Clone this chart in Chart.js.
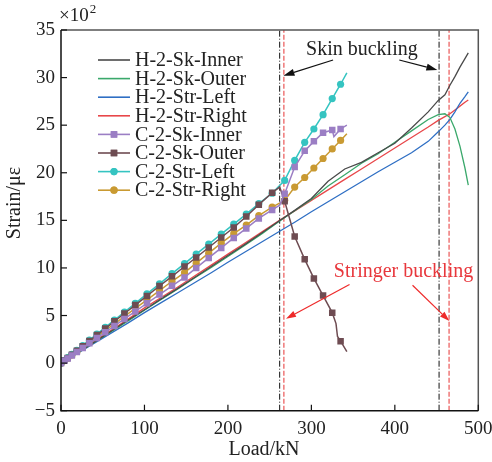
<!DOCTYPE html>
<html><head><meta charset="utf-8">
<script src="https://cdn.jsdelivr.net/npm/chart.js@4.4.1/dist/chart.umd.min.js"></script>
<style>html,body{margin:0;padding:0;background:#fff}#wrap{width:492px;height:462px;position:relative}</style>
</head><body><div id="wrap"><canvas id="c"></canvas></div>
<script>
// ---- tick labels ----
const xTicks = [0, 100, 200, 300, 400, 500];
const yTicks = [-5, 0, 5, 10, 15, 20, 25, 30, 35];
const yTickLabels = ['\u22125', '0', '5', '10', '15', '20', '25', '30', '35'];

// ---- H-2 specimen (load kN, strain x10^2 με) ----
const hLoad = [0,20,40,60,80,100,120,140,160,180,200,220,240,260,280,300,320,340,360,380,400,420,440,452,460,466,472,478,484,488];
const hSkInner  = [0,1.1,2.2,3.35,4.5,5.6,6.75,7.85,9.0,10.15,11.3,12.45,13.65,14.85,16.05,17.3,19.1,20.4,21.1,22.1,23.1,24.7,26.4,27.6,28.2,29.2,30.1,31.1,32.0,32.6];
const hSkOuter  = [0,1.1,2.2,3.3,4.4,5.55,6.7,7.8,8.95,10.05,11.2,12.35,13.55,14.8,16.0,17.2,18.6,19.8,21.0,22.0,23.2,24.4,25.6,26.1,26.2,25.8,24.6,22.8,20.5,18.7];
const hStrLeft  = [0,1.05,2.1,3.15,4.2,5.3,6.35,7.4,8.45,9.5,10.6,11.65,12.7,13.75,14.8,15.9,16.95,18.0,19.05,20.1,21.1,22.1,23.3,24.3,25.0,25.6,26.4,27.3,28.0,28.5];
const hStrRight = [0,1.15,2.3,3.45,4.6,5.8,6.9,8.0,9.15,10.3,11.45,12.6,13.75,14.9,16.0,17.1,18.2,19.3,20.4,21.5,22.6,23.7,24.8,25.5,25.9,26.2,26.6,27.0,27.4,27.65];

// ---- C-2 specimen ----
const cLoad = [0,4,8,13,19,26,34,43,53,64,76,89,103,118,133,148,162,177,192,207,222,237,253,262,268,280,292,303,314,325,327,329.5,331.3,335,342.5];
const cUnmarked = [262, 327, 329.5, 331.3, 342.5];
const cSkInner  = [0,0.24,0.49,0.8,1.16,1.59,2.08,2.63,3.24,3.91,4.64,5.43,6.29,7.2,8.12,9.0,10.0,11.05,12.1,13.15,14.15,15.2,16.1,16.6,17.8,20.6,22.3,23.3,24.2,24.5,23.8,null,null,24.6,25.0];
const cSkOuter  = [0,0.27,0.55,0.89,1.3,1.78,2.33,2.95,3.63,4.39,5.21,6.1,7.06,8.1,9.12,10.15,11.1,12.15,13.2,14.25,15.4,16.65,17.9,18.5,17.0,13.3,10.9,8.9,7.1,5.3,null,4.15,2.8,2.3,1.2];
const cStrLeft  = [0,0.28,0.57,0.93,1.35,1.85,2.41,3.05,3.75,4.52,5.37,6.28,7.27,8.33,9.4,10.45,11.45,12.5,13.55,14.6,15.65,16.75,17.85,null,19.2,21.3,23.2,24.6,26.1,27.8,null,null,null,29.3,30.5];
const cStrRight = [0,0.26,0.52,0.84,1.23,1.68,2.2,2.78,3.43,4.13,4.91,5.75,6.65,7.62,8.6,9.5,10.5,11.55,12.6,13.6,14.5,15.5,16.4,null,17.1,18.5,19.5,20.5,21.5,22.5,null,null,null,23.4,24.1];

// ---- buckling loads (kN) ----
const skinBuckling = [262, 453];
const stringerBuckling = [267, 465];

// ---- annotations (data coords) ----
const skinLabel = {text: 'Skin buckling', x: 360.5, y: 32.9};
const skinArrows = [[326, 31.85, 266.5, 30.2], [405.3, 31.85, 451, 30.8]];
const stringerLabel = {text: 'Stringer buckling', x: 410.4, y: 9.6};
const stringerArrows = [[345.7, 8.25, 269.6, 4.67], [421.2, 8.18, 465.4, 4.42]];

const SERIF = "'Liberation Serif', 'Times New Roman', serif";

function pts(xs, ys) {
  const out = [];
  xs.forEach((x, i) => { if (ys[i] !== null && ys[i] !== undefined) out.push({x: x, y: ys[i]}); });
  return out;
}
function hSet(label, vals, color) {
  return {label, data: pts(hLoad, vals), borderColor: color, backgroundColor: color,
    borderWidth: 1.3, pointRadius: 0, tension: 0, order: 2, legend: true};
}
function cSet(label, vals, color, style, r) {
  return {label, data: pts(cLoad, vals), borderColor: color, backgroundColor: color,
    borderWidth: 1.5, pointStyle: style, tension: 0, order: 1, legend: true,
    pointRadius: (ctx) => (ctx.raw && cUnmarked.includes(ctx.raw.x)) ? 0 : r,
    pointBorderWidth: 0, markR: r};
}
function vSet(xv, color, dash, w) {
  return {label: '', data: [{x: xv, y: -5}, {x: xv, y: 35}], borderColor: color,
    borderWidth: w, borderDash: dash, pointRadius: 0, order: 3, legend: false};
}

const datasets = [
  hSet('H-2-Sk-Inner', hSkInner, '#4a4a4a'),
  hSet('H-2-Sk-Outer', hSkOuter, '#3aa86b'),
  hSet('H-2-Str-Left', hStrLeft, '#2f6fc4'),
  hSet('H-2-Str-Right', hStrRight, '#e8474a'),
  cSet('C-2-Sk-Inner', cSkInner, '#9b7ec4', 'rect', 4.6),
  cSet('C-2-Sk-Outer', cSkOuter, '#6e4c52', 'rect', 4.6),
  cSet('C-2-Str-Left', cStrLeft, '#35c4c1', 'circle', 3.6),
  cSet('C-2-Str-Right', cStrRight, '#c99a32', 'circle', 3.6),
];
skinBuckling.forEach(v => datasets.push(vSet(v, '#111', [6, 2, 1, 2], 1)));
stringerBuckling.forEach(v => datasets.push(vSet(v, '#f08080', [5, 2], 1.6)));

function arrow(ctx, x1, y1, x2, y2, color, len, wid) {
  const ang = Math.atan2(y2 - y1, x2 - x1);
  const bx = x2 - len * Math.cos(ang), by = y2 - len * Math.sin(ang);
  ctx.strokeStyle = color; ctx.fillStyle = color; ctx.lineWidth = 1.2;
  ctx.beginPath(); ctx.moveTo(x1, y1); ctx.lineTo(bx, by); ctx.stroke();
  ctx.beginPath();
  ctx.moveTo(x2, y2);
  ctx.lineTo(bx + wid * Math.sin(ang), by - wid * Math.cos(ang));
  ctx.lineTo(bx - wid * Math.sin(ang), by + wid * Math.cos(ang));
  ctx.closePath(); ctx.fill();
}

const deco = {
  id: 'deco',
  afterDraw(chart) {
    const {ctx, chartArea: a, scales: {x, y}} = chart;
    ctx.save();
    // frame
    ctx.lineWidth = 1.5;
    ctx.strokeStyle = '#555';
    ctx.beginPath(); ctx.moveTo(a.left, a.top); ctx.lineTo(a.right, a.top); ctx.lineTo(a.right, a.bottom); ctx.stroke();
    ctx.strokeStyle = '#111';
    ctx.beginPath(); ctx.moveTo(a.left, a.top); ctx.lineTo(a.left, a.bottom); ctx.lineTo(a.right, a.bottom); ctx.stroke();
    // inward ticks
    ctx.lineWidth = 1.2;
    xTicks.forEach(v => { const p = x.getPixelForValue(v); ctx.beginPath(); ctx.moveTo(p, a.bottom); ctx.lineTo(p, a.bottom - 6); ctx.stroke(); });
    yTicks.forEach(v => { const p = y.getPixelForValue(v); ctx.beginPath(); ctx.moveTo(a.left, p); ctx.lineTo(a.left + 6, p); ctx.stroke(); });
    // axis titles
    ctx.fillStyle = '#222';
    ctx.font = '20px ' + SERIF;
    ctx.textAlign = 'center'; ctx.textBaseline = 'middle';
    ctx.fillText('Load/kN', a.left + 203, a.bottom + 39);
    ctx.save(); ctx.translate(15, a.top + 173); ctx.rotate(-Math.PI / 2);
    ctx.fillText('Strain/\u03bc\u03b5', 0, 0); ctx.restore();
    // x10^2
    ctx.textAlign = 'left'; ctx.textBaseline = 'alphabetic';
    ctx.font = '19px ' + SERIF;
    ctx.fillText('\u00d710', a.left - 2, a.top - 9);
    const w = ctx.measureText('\u00d710').width;
    ctx.font = '13px ' + SERIF;
    ctx.fillText('2', a.left - 2 + w + 1, a.top - 17);
    // annotations
    ctx.textAlign = 'center'; ctx.textBaseline = 'middle';
    ctx.font = '20px ' + SERIF;
    ctx.fillStyle = '#222';
    ctx.fillText(skinLabel.text, x.getPixelForValue(skinLabel.x), y.getPixelForValue(skinLabel.y));
    skinArrows.forEach(s => arrow(ctx, x.getPixelForValue(s[0]), y.getPixelForValue(s[1]), x.getPixelForValue(s[2]), y.getPixelForValue(s[3]), '#111', 11, 3.5));
    ctx.fillStyle = '#e8373c';
    ctx.fillText(stringerLabel.text, x.getPixelForValue(stringerLabel.x), y.getPixelForValue(stringerLabel.y));
    stringerArrows.forEach(s => arrow(ctx, x.getPixelForValue(s[0]), y.getPixelForValue(s[1]), x.getPixelForValue(s[2]), y.getPixelForValue(s[3]), '#ee2a2a', 10, 3.2));
    // legend
    const legendItems = chart.data.datasets.filter(d => d.legend);
    const lx = a.left + 37, ly = a.top + 30, step = 18.6;
    ctx.font = '20px ' + SERIF; ctx.textAlign = 'left'; ctx.textBaseline = 'middle';
    legendItems.forEach((d, i) => {
      const yy = ly + i * step;
      ctx.strokeStyle = d.borderColor; ctx.lineWidth = 1.6;
      ctx.beginPath(); ctx.moveTo(lx, yy); ctx.lineTo(lx + 32, yy); ctx.stroke();
      if (d.markR) {
        ctx.fillStyle = d.borderColor;
        Chart.helpers.drawPoint(ctx, {pointStyle: d.pointStyle, radius: d.markR, borderWidth: 0, rotation: 0}, lx + 16, yy);
        ctx.fill();
      }
      ctx.fillStyle = '#222';
      ctx.fillText(d.label, lx + 37, yy + 1);
    });
    ctx.restore();
  }
};

new Chart(document.getElementById('c'), {
  type: 'line',
  data: {datasets},
  options: {
    responsive: true, maintainAspectRatio: false, animation: false,
    layout: {padding: {top: 30, right: 13.7, left: 0, bottom: 0}},
    plugins: {legend: {display: false}, tooltip: {enabled: false}},
    elements: {line: {spanGaps: true}},
    scales: {
      x: {type: 'linear', min: 0, max: 500,
        afterFit: s => { s.height = 51.3; s.paddingLeft = 0; s.paddingRight = 0; },
        afterBuildTicks: s => { s.ticks = xTicks.map(v => ({value: v})); },
        grid: {display: false, drawTicks: false}, border: {display: false},
        ticks: {padding: 7, color: '#222', font: {family: SERIF, size: 19}, maxRotation: 0, autoSkip: false}},
      y: {type: 'linear', min: -5, max: 35,
        afterFit: s => { s.width = 61; s.paddingTop = 0; s.paddingBottom = 0; },
        afterBuildTicks: s => { s.ticks = yTicks.map(v => ({value: v})); },
        grid: {display: false, drawTicks: false}, border: {display: false},
        ticks: {padding: 6, color: '#222', font: {family: SERIF, size: 19},
          callback: (v) => { const i = yTicks.indexOf(v); return i >= 0 ? yTickLabels[i] : ''; }}}
    }
  },
  plugins: [deco]
});
</script></body></html>
